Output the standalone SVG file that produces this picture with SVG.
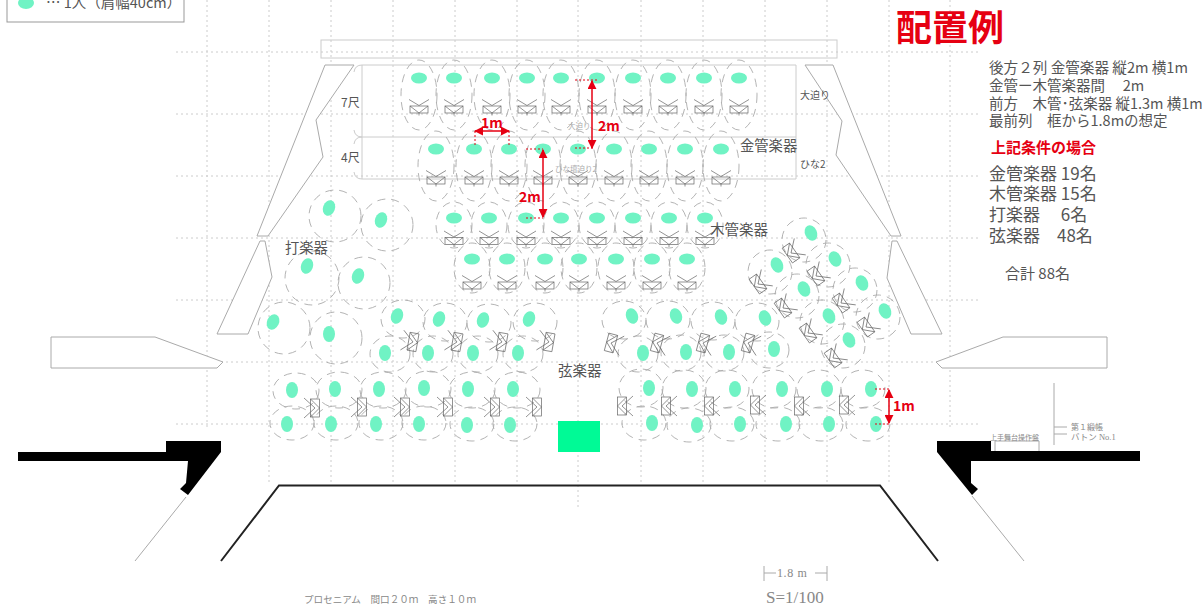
<svg xmlns="http://www.w3.org/2000/svg" xmlns:xlink="http://www.w3.org/1999/xlink" width="1202" height="610" viewBox="0 0 1202 610">
<style>
text{font-family:"Noto Sans CJK JP","Noto Sans",sans-serif;fill:#555}
.sf{font-family:"Liberation Serif","Noto Sans CJK JP",serif;fill:#888}
.g{stroke:#ccc;stroke-width:1;stroke-dasharray:2 3;fill:none}
.o{fill:#fff;stroke:#aaa;stroke-width:1}
.f{fill:none;stroke:#ccc;stroke-width:1}
.d{fill:none;stroke:#aaa;stroke-width:.9;stroke-dasharray:8 6}
.p{fill:#70f3c4}
.st{fill:none;stroke:#666;stroke-width:.7}
.r{fill:none;stroke:#e60012;stroke-width:1.5}
.rd{fill:none;stroke:#e60012;stroke-width:1;stroke-dasharray:2 2}
.rt{fill:#e60012;font-weight:700}
.k{fill:#000}
</style>
<defs>
<marker id="a" viewBox="0 0 10 10" refX="9" refY="5" markerWidth="6" markerHeight="6" orient="auto-start-reverse" markerUnits="strokeWidth"><path d="M0 0L10 5L0 10z" fill="#e60012"/></marker>
<g id="s"><path class="st" d="M-10-10L0-4L10-10M-9-3.500L0 3.500L9-3.500M0 3.500V6"/><rect class="st" x="-9" y="-3.500" width="18" height="7"/></g>
<g id="t"><path class="st" d="M-10-11L0 0L10-11M-9-4.500L0 4.500L9-4.500"/><rect class="st" x="-9" y="-4.500" width="18" height="9"/></g>
<g id="b1"><ellipse class="d" cx="0" cy="17" rx="18" ry="35"/><ellipse class="p" rx="8" ry="5.500"/><use href="#s" y="31.500"/></g>
<g id="w1"><ellipse class="d" cx="0" cy="7" rx="18" ry="23"/><ellipse class="p" rx="8" ry="5.500"/><use href="#s" y="23"/></g>
<g id="w2"><ellipse class="d" cx="0" cy="9" rx="18" ry="25"/><ellipse class="p" rx="8" ry="5.500"/><use href="#s" y="26.500"/></g>
<g id="sa"><ellipse class="d" cx="6" cy="3" rx="22" ry="19"/><ellipse class="p" rx="6" ry="8" transform="rotate(20)"/></g>
<g id="sb"><ellipse class="d" cx="5" cy="1" rx="20" ry="18"/><ellipse class="p" rx="6" ry="8"/></g>
<g id="sc"><ellipse class="d" cx="4" cy="1" rx="23" ry="18"/><ellipse class="p" rx="6" ry="8"/></g>
<g id="sd"><ellipse class="d" cx="5" cy="-1" rx="22" ry="17"/><ellipse class="p" rx="6" ry="8"/></g>
<g id="se"><ellipse class="d" cx="-8" cy="4" rx="22" ry="19"/><ellipse class="p" rx="6" ry="8" transform="rotate(-20)"/></g>
<g id="sf"><ellipse class="d" cx="-5" cy="1" rx="20" ry="18"/><ellipse class="p" rx="6" ry="8"/></g>
<g id="sg"><ellipse class="d" cx="-8" cy="0" rx="22" ry="19"/><ellipse class="p" rx="6" ry="8"/></g>
<g id="sh"><ellipse class="d" cx="-8" cy="0" rx="22" ry="17"/><ellipse class="p" rx="6" ry="8"/></g>
<ellipse id="rp" class="p" rx="6" ry="8" transform="rotate(-25)"/>
</defs>
<rect width="1202" height="610" fill="#fff"/>

<g id="grid">
<path class="g" d="M176 52H980M176 114H980M176 176H980M176 238H980M176 300H980M176 362H980M176 424H980"/>
<path class="g" d="M207 0V430M269 0V485M331 0V485M393 0V485M455 0V485M517 0V485M578 0V507M641 0V485M703 0V485M765 0V485M827 0V485M889 0V485M950 0V430"/>
</g>

<g id="stage">
<rect class="f" x="321" y="40" width="516" height="18"/>
<path class="f" d="M362 65H796V179H362ZM362 137H796"/>
<path class="f" d="M362 65Q355 65 354 72M362 137Q355 137 354 130M362 137Q355 137 354 144M362 179Q355 179 354 172"/>
<path class="o" d="M325 65H354L316 120L323 157L268 236H257Z"/>
<path class="o" d="M260 241H265L272 277L248 334H217Z"/>
<path class="o" d="M805 65H833L901 236H891L836 155L842 121Z"/>
<path class="o" d="M892 241H897L942 334H911L887 278L892 241Z"/>
<path class="o" d="M51 337H155L223 362L217 368H51Z"/>
<path class="o" d="M1107 337H1003L936 362L942 368H1107Z"/>
<path class="k" d="M166 441H221V452L188 495L180 489L186 483L188 461H18V452H166Z"/>
<path class="k" d="M937 441H991V451H1140V461H971V483L978 489L972 495L937 452Z"/>
<path fill="none" stroke="#aaa" d="M186 497L135 561M972 496L1024 561"/>
<path fill="none" stroke="#222" stroke-width="2" d="M221 561L279 485.500H880L938 561"/>
<path fill="none" stroke="#aaa" d="M995 451V441H1039V451M1054 383V445M1054 427H1067M1054 434H1067M764 566V581M827 566V581M764 573H776M815 573H827"/>
<rect x="558" y="421" width="42" height="31" fill="#00fa96"/>
</g>

<g id="legend">
<rect x="7" y="-10" width="177" height="32" fill="#fff" stroke="#999"/>
<ellipse class="p" cx="26" cy="3" rx="8" ry="6"/>
<text x="46" y="8" font-size="14.500">… 1人（肩幅40cm）</text>
</g>

<g id="brass">
<use href="#b1" x="419" y="78"/><use href="#b1" x="454" y="78"/><use href="#b1" x="492" y="78"/><use href="#b1" x="527" y="78"/><use href="#b1" x="561" y="78"/><use href="#b1" x="597" y="78"/><use href="#b1" x="633" y="78"/><use href="#b1" x="668" y="78"/><use href="#b1" x="704" y="78"/><use href="#b1" x="739" y="78"/>
<use href="#b1" x="436" y="149"/><use href="#b1" x="474" y="149"/><use href="#b1" x="509" y="149"/><use href="#b1" x="543" y="149"/><use href="#b1" x="578" y="149"/><use href="#b1" x="614" y="149"/><use href="#b1" x="649" y="149"/><use href="#b1" x="685" y="149"/><use href="#b1" x="721" y="149"/>
</g>
<g id="woodwinds">
<use href="#w1" x="454" y="218"/><use href="#w1" x="489" y="218"/><use href="#w1" x="526" y="218"/><use href="#w1" x="561" y="218"/><use href="#w1" x="597" y="218"/><use href="#w1" x="633" y="218"/><use href="#w1" x="669" y="218"/><use href="#w1" x="705" y="218"/>
<use href="#w2" x="472" y="259"/><use href="#w2" x="507" y="259"/><use href="#w2" x="545" y="259"/><use href="#w2" x="579" y="259"/><use href="#w2" x="616" y="259"/><use href="#w2" x="652" y="259"/><use href="#w2" x="687" y="259"/>
</g>
<g id="percussion">
<circle class="d" cx="335" cy="216" r="26"/><circle class="d" cx="387" cy="225" r="26"/><circle class="d" cx="312" cy="278" r="27"/><circle class="d" cx="364" cy="283" r="26"/><circle class="d" cx="284" cy="328" r="26"/><circle class="d" cx="336" cy="338" r="26"/>
<ellipse class="p" rx="6" ry="8" transform="translate(329 208) rotate(20)"/><ellipse class="p" rx="6" ry="8" transform="translate(381 220) rotate(20)"/><ellipse class="p" rx="6" ry="8" transform="translate(307 266) rotate(20)"/><ellipse class="p" rx="6" ry="8" transform="translate(358 276) rotate(20)"/><ellipse class="p" rx="6" ry="8" transform="translate(273 322) rotate(25)"/><ellipse class="p" rx="6" ry="8" transform="translate(329 334)"/>
</g>
<g id="strings">
<use href="#sa" x="397" y="316"/><use href="#sa" x="439" y="319"/><use href="#sa" x="483" y="320"/><use href="#sa" x="529" y="319"/>
<use href="#sb" x="385" y="353"/><use href="#sb" x="428" y="353"/><use href="#sb" x="473" y="353"/><use href="#sb" x="518" y="353"/>
<use href="#t" transform="translate(413 342) rotate(-80)"/><use href="#t" transform="translate(457 342) rotate(-80)"/><use href="#t" transform="translate(502 342) rotate(-80)"/><use href="#t" transform="translate(549 342) rotate(-80)"/>
<use href="#sc" x="292" y="390"/><use href="#sc" x="335" y="389"/><use href="#sc" x="379" y="389"/><use href="#sc" x="424" y="388"/><use href="#sc" x="468" y="389"/><use href="#sc" x="513" y="389"/>
<use href="#sd" x="287" y="424"/><use href="#sd" x="331" y="424"/><use href="#sd" x="376" y="424"/><use href="#sd" x="419" y="424"/><use href="#sd" x="467" y="425"/><use href="#sd" x="510" y="425"/>
<use href="#t" transform="translate(315 408) rotate(-90)"/><use href="#t" transform="translate(362 407) rotate(-90)"/><use href="#t" transform="translate(405 407) rotate(-90)"/><use href="#t" transform="translate(448 407) rotate(-90)"/><use href="#t" transform="translate(495 407) rotate(-90)"/><use href="#t" transform="translate(537 407) rotate(-90)"/>
<use href="#se" x="632" y="316"/><use href="#se" x="676" y="316"/><use href="#se" x="721" y="317"/><use href="#se" x="765" y="318"/>
<use href="#sf" x="643" y="353"/><use href="#sf" x="686" y="352"/><use href="#sf" x="729" y="352"/><use href="#sf" x="774" y="349"/>
<use href="#t" transform="translate(611 343) rotate(105)"/><use href="#t" transform="translate(657 343) rotate(105)"/><use href="#t" transform="translate(703 343) rotate(105)"/><use href="#t" transform="translate(748 343) rotate(105)"/>
<use href="#sg" x="649" y="388"/><use href="#sg" x="692" y="389"/><use href="#sg" x="735" y="389"/><use href="#sg" x="782" y="389"/><use href="#sg" x="827" y="389"/><use href="#sg" x="871" y="389"/>
<use href="#sh" x="652" y="423"/><use href="#sh" x="697" y="425"/><use href="#sh" x="740" y="424"/><use href="#sh" x="786" y="424"/><use href="#sh" x="829" y="424"/><use href="#sh" x="876" y="424"/>
<use href="#t" transform="translate(622 406) rotate(90)"/><use href="#t" transform="translate(666 406) rotate(90)"/><use href="#t" transform="translate(709 406) rotate(90)"/><use href="#t" transform="translate(755 405) rotate(90)"/><use href="#t" transform="translate(799 406) rotate(90)"/><use href="#t" transform="translate(844 405) rotate(90)"/>
<circle class="d" cx="804" cy="240" r="22"/><circle class="d" cx="770" cy="272" r="22"/><circle class="d" cx="828" cy="265" r="22"/><circle class="d" cx="797" cy="296" r="22"/><circle class="d" cx="855" cy="290" r="22"/><circle class="d" cx="822" cy="322" r="22"/><circle class="d" cx="878" cy="317" r="22"/><circle class="d" cx="843" cy="346" r="22"/>
<use href="#rp" x="811" y="233"/><use href="#rp" x="777" y="265"/><use href="#rp" x="835" y="259"/><use href="#rp" x="804" y="289"/><use href="#rp" x="862" y="283"/><use href="#rp" x="829" y="316"/><use href="#rp" x="885" y="311"/><use href="#rp" x="849" y="340"/>
<use href="#t" transform="translate(791 253) rotate(55)"/><use href="#t" transform="translate(758 284) rotate(55)"/><use href="#t" transform="translate(816 276) rotate(55)"/><use href="#t" transform="translate(783 308) rotate(55)"/><use href="#t" transform="translate(841 303) rotate(55)"/><use href="#t" transform="translate(808 333) rotate(55)"/><use href="#t" transform="translate(866 327) rotate(55)"/><use href="#t" transform="translate(833 358) rotate(55)"/>
</g>

<g id="dimensions">
<path class="rd" d="M575 80H597M575 148H595M526 149H543M526 218H543M475 131V146M509 131V146M875 389H889M875 424H889"/>
<path class="r" marker-start="url(#a)" marker-end="url(#a)" d="M475 131H509"/>
<path class="r" marker-start="url(#a)" marker-end="url(#a)" d="M592 81V148"/>
<path class="r" marker-start="url(#a)" marker-end="url(#a)" d="M543 150V217"/>
<path class="r" marker-start="url(#a)" marker-end="url(#a)" d="M889 390V423"/>
<text class="rt" x="481" y="128" font-size="14">1m</text>
<text class="rt" x="598" y="131" font-size="14">2m</text>
<text class="rt" x="519" y="202" font-size="14">2m</text>
<text class="rt" x="893" y="411" font-size="14">1m</text>
</g>

<g id="labels">
<text x="896" y="41" font-size="36" font-weight="700" style="fill:#e60012">配置例</text>
<text x="989" y="73" font-size="14.600">後方２列 金管楽器 縦2m 横1m</text>
<text x="989" y="91" font-size="14.500">金管ー木管楽器間　 2m</text>
<text x="989" y="109" font-size="14.500">前方　木管･弦楽器 縦1.3m 横1m</text>
<text x="989" y="126" font-size="14.500">最前列　框から1.8mの想定</text>
<text class="rt" x="991" y="153" font-size="15">上記条件の場合</text>
<text x="989" y="180" font-size="17">金管楽器 19名</text>
<text x="989" y="200" font-size="17">木管楽器 15名</text>
<text x="989" y="221" font-size="17">打楽器　  6名</text>
<text x="989" y="242" font-size="17">弦楽器　48名</text>
<text x="1005" y="279" font-size="15">合計 88名</text>
<text x="740" y="151" font-size="14.300">金管楽器</text>
<text x="710" y="235" font-size="14.500">木管楽器</text>
<text x="285" y="253" font-size="14.300">打楽器</text>
<text x="558" y="376" font-size="14.500">弦楽器</text>
<text x="800" y="99" font-size="10">大迫り</text>
<text x="800" y="168" font-size="10">ひな2</text>
<text x="341" y="107" font-size="12">7尺</text>
<text x="341" y="162" font-size="12">4尺</text>
<text x="568" y="129" font-size="7.500" style="fill:#aaa">大迫り</text>
<text x="555" y="172" font-size="7.500" style="fill:#aaa">ひな壇迫り2</text>
<text class="sf" x="990" y="440" font-size="7">上手舞台操作盤</text>
<text class="sf" x="1071" y="430" font-size="8">第１緞帳</text>
<text class="sf" x="1071" y="440" font-size="8.500">バトン No.1</text>
<text class="sf" x="304" y="603" font-size="9.600">プロセニアム　間口２０ｍ　高さ１０ｍ</text>
<text class="sf" x="777" y="577" font-size="12" letter-spacing=".6">1.8 m</text>
<text class="sf" x="766" y="603" font-size="17">S=1/100</text>
</g>
</svg>
